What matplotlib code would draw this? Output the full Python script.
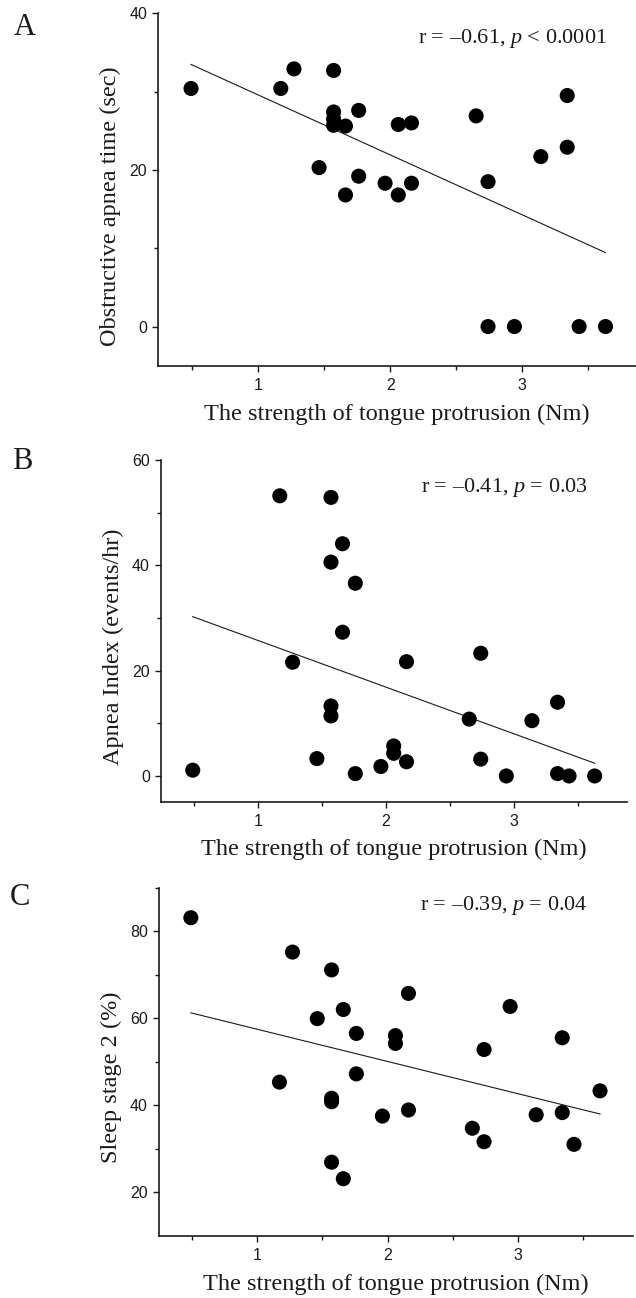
import matplotlib
matplotlib.use('Agg')
import matplotlib.pyplot as plt
from matplotlib.ticker import FixedLocator
import numpy as np

# ---- Data ----
tongue_strength = [0.49, 1.17, 1.27, 1.46, 1.57, 1.57, 1.57, 1.57, 1.66, 1.66,
                   1.76, 1.76, 1.96, 2.06, 2.06, 2.16, 2.16, 2.65, 2.74, 2.74,
                   2.94, 3.14, 3.34, 3.34, 3.43, 3.63]
apnea_time = [30.4, 30.4, 32.9, 20.3, 32.7, 27.4, 26.5, 25.7, 25.6, 16.8,
              27.6, 19.2, 18.3, 25.8, 16.8, 26.0, 18.3, 26.9, 18.5, 0.0,
              0.0, 21.7, 29.5, 22.9, 0.0, 0.0]
apnea_index = [1.1, 53.2, 21.6, 3.3, 52.9, 40.6, 13.3, 11.4, 44.1, 27.3,
               36.6, 0.45, 1.8, 5.7, 4.3, 21.7, 2.7, 10.8, 23.3, 3.2,
               0.0, 10.5, 14.0, 0.45, 0.0, 0.0]
sleep_stage2 = [83.1, 45.3, 75.2, 59.9, 71.1, 41.6, 40.8, 26.9, 62.0, 23.1,
                56.5, 47.2, 37.5, 56.0, 54.2, 65.7, 38.9, 34.7, 52.8, 31.6,
                62.7, 37.8, 55.5, 38.3, 31.0, 43.3]

panel_letters = ['A', 'B', 'C']
y_labels = ['Obstructive apnea time (sec)', 'Apnea Index (events/hr)', 'Sleep stage 2 (%)']
stats_text = [r'r = –0.61, $p$ < 0.0001', r'r = –0.41, $p$ = 0.03', r'r = –0.39, $p$ = 0.04']
x_label = 'The strength of tongue protrusion (Nm)'

# ---- Layout (pixels on a 636 x 1298 canvas) ----
W, H, DPI = 636, 1298, 100
SERIF = 'Liberation Serif'
TICK_FONT = ['Liberation Sans Narrow', 'Liberation Sans', 'DejaVu Sans']
INK = '#1a1a1a'

plt.rcParams.update({
    'font.family': SERIF,
    'mathtext.fontset': 'custom',
    'mathtext.rm': 'Liberation Serif',
    'mathtext.it': 'Liberation Serif:italic',
    'axes.linewidth': 1.2,
    'axes.edgecolor': INK,
})

# (left, top, right, bottom) of each axes, xlim, ylim, major/minor y ticks,
# ylabel centre, letter position, stats baseline
layout = [
    dict(box=(158.3, 13.3, 636, 365.7), xlim=(0.242, 3.861), ylim=(-5, 40),
         ymaj=[0, 20, 40], ymin=[10, 30], ylab=(109, 206), letter=(14, 35),
         stats=(418, 43.5), xlab_top=404),
    dict(box=(161, 460, 627.3, 802.3), xlim=(0.242, 3.885), ylim=(-5, 60),
         ymaj=[0, 20, 40, 60], ymin=[10, 30, 50], ylab=(112, 647), letter=(12, 469),
         stats=(421, 491.7), xlab_top=839),
    dict(box=(159, 887.7, 633, 1235.7), xlim=(0.2456, 3.883), ylim=(10, 90),
         ymaj=[20, 40, 60, 80], ymin=[30, 50, 70, 90], ylab=(110, 1077), letter=(10, 905),
         stats=(420, 910), xlab_top=1274),
]
series = [apnea_time, apnea_index, sleep_stage2]

fig = plt.figure(figsize=(W / DPI, H / DPI), dpi=DPI)
x = np.array(tongue_strength)

for i, (lay, yvals) in enumerate(zip(layout, series)):
    l, t, r, b = lay['box']
    ax = fig.add_axes([l / W, 1 - b / H, (r - l) / W, (b - t) / H])
    y = np.array(yvals)

    ax.scatter(x, y, s=118, color='black', edgecolors='none', zorder=3, clip_on=False)
    slope, intercept = np.polyfit(x, y, 1)
    xl = np.array([x.min(), x.max()])
    ax.plot(xl, slope * xl + intercept, color=INK, lw=0.8, zorder=2)

    ax.set_xlim(*lay['xlim'])
    ax.set_ylim(*lay['ylim'])
    ax.xaxis.set_major_locator(FixedLocator([1, 2, 3]))
    ax.xaxis.set_minor_locator(FixedLocator([0.5, 1.5, 2.5, 3.5]))
    ax.yaxis.set_major_locator(FixedLocator(lay['ymaj']))
    ax.yaxis.set_minor_locator(FixedLocator(lay['ymin']))
    for side in ('top', 'right'):
        ax.spines[side].set_visible(False)
    ax.tick_params(which='major', direction='out', length=4.5, width=1.0, color=INK,
                   labelsize=11.5, labelcolor=INK)
    ax.tick_params(which='minor', direction='out', length=3, width=1.0, color=INK)
    ax.tick_params(axis='x', which='major', pad=4)
    ax.tick_params(axis='y', which='major', pad=3.5)
    for lab in ax.get_xticklabels() + ax.get_yticklabels():
        lab.set_family(TICK_FONT)

    ax.set_xlabel(x_label, fontsize=17.5, color=INK)
    ax.xaxis.set_label_coords(0.5 * (l + r) / W, 1 - lay['xlab_top'] / H,
                              transform=fig.transFigure)
    ax.set_ylabel(y_labels[i], fontsize=17.5, color=INK)
    yx, yy = lay['ylab']
    ax.yaxis.set_label_coords((yx + 12) / W, 1 - yy / H, transform=fig.transFigure)

    sx, sy = lay['stats']
    fig.text(sx / W, 1 - sy / H, stats_text[i], fontsize=16, color=INK,
             ha='left', va='baseline')
    lx, ly = lay['letter']
    fig.text(lx / W, 1 - ly / H, panel_letters[i], fontsize=22, color=INK,
             ha='left', va='baseline')

fig.savefig('out.png', dpi=DPI, facecolor='white')
